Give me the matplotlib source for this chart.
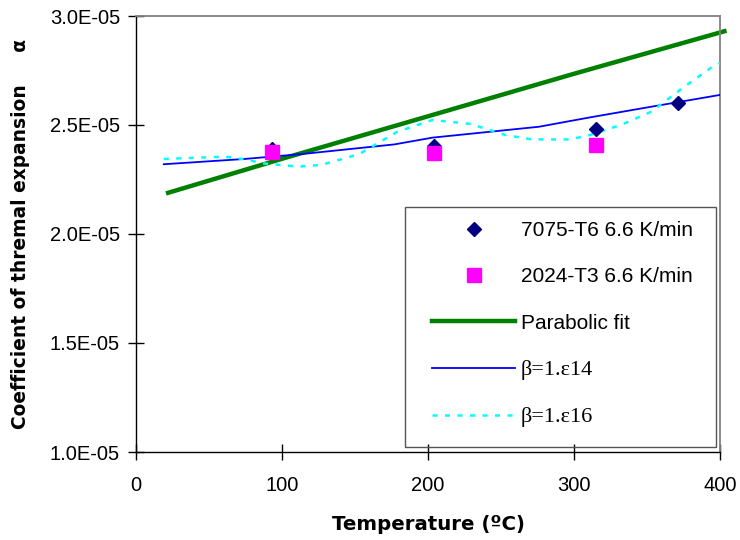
import matplotlib
matplotlib.use("Agg")
import matplotlib.pyplot as plt
import numpy as np
from matplotlib.patches import Rectangle
from matplotlib.ticker import FuncFormatter

plt.rcParams['font.family'] = ['Liberation Sans', 'DejaVu Sans']

# measured alpha values (x1e-5 1/K)
t_7075 = [93, 204, 315, 371]
a_7075 = [2.39, 2.405, 2.483, 2.602]
t_2024 = [93, 204, 315]
a_2024 = [2.376, 2.373, 2.408]

# parabolic fit of the data
t_fit = [22, 100, 200, 300, 403]
a_fit = [2.189, 2.345, 2.540, 2.735, 2.93]

# model curves
t_b14 = [19, 74, 114, 177, 203, 276, 311, 347, 400]
a_b14 = [2.320, 2.344, 2.367, 2.411, 2.442, 2.492, 2.535, 2.577, 2.638]
t_b16 = [19, 61, 74, 87, 111, 127, 153, 179, 203, 229, 253, 271, 297, 311,
         332, 353, 374, 395, 400]
a_b16 = [2.344, 2.355, 2.343, 2.324, 2.309, 2.317, 2.367, 2.469, 2.523,
         2.505, 2.454, 2.434, 2.434, 2.454, 2.500, 2.561, 2.668, 2.768, 2.783]

scale = 1e-5
W, H = 740, 540

fig = plt.figure(figsize=(7.4, 5.4), dpi=100)
ax = fig.add_axes([136 / W, 1 - 452 / H, 584 / W, 436 / H])

ax.plot(t_fit, np.array(a_fit) * scale, color='#008000', lw=3.2,
        label='Parabolic fit', zorder=2, clip_on=False)
ax.plot(t_b14, np.array(a_b14) * scale, color='#0000FF', lw=1.3,
        label='β=1.ε14', zorder=3)
ax.plot(t_b16, np.array(a_b16) * scale, color='#00FFFF', lw=1.8,
        ls=(0, (2, 3)), label='β=1.ε16', zorder=3)
ax.plot(t_7075, np.array(a_7075) * scale, 'D', color='#000080', ms=7,
        label='7075-T6 6.6 K/min', zorder=4)
ax.plot(t_2024, np.array(a_2024) * scale, 's', color='#FF00FF', ms=9.5,
        label='2024-T3 6.6 K/min', zorder=5)

ax.set_xlim(0, 400)
ax.set_ylim(1.0e-5, 3.0e-5)
ax.set_xticks([0, 100, 200, 300, 400])
ax.set_yticks([1.0e-5, 1.5e-5, 2.0e-5, 2.5e-5, 3.0e-5])
ax.yaxis.set_major_formatter(FuncFormatter(lambda v, p: f"{v / 1e-5:.1f}E-05"))
ax.tick_params(direction='inout', length=11, width=1, labelsize=14.5)
ax.tick_params(axis='y', pad=6)
ax.tick_params(axis='x', pad=12)

for s in ['top', 'right']:
    ax.spines[s].set_color('#808080')
    ax.spines[s].set_linewidth(1.3)
for s in ['left', 'bottom']:
    ax.spines[s].set_color('black')
    ax.spines[s].set_linewidth(1.0)

ax.set_xlabel('Temperature (ºC)', fontsize=14.2, fontweight='bold',
              family=['DejaVu Sans'], labelpad=14)
ax.set_ylabel('Coefficient of thremal expansion     α', fontsize=13.4,
              fontweight='bold', family=['DejaVu Sans'])
ax.yaxis.set_label_coords(-0.181, 0.5)

handles, labels = ax.get_legend_handles_labels()
order = [3, 4, 0, 1, 2]
leg = ax.legend([handles[i] for i in order], [labels[i] for i in order],
                loc='upper left', bbox_to_anchor=(432 / W, 1 - 221 / H),
                bbox_transform=fig.transFigure, fontsize=15, frameon=False,
                handlelength=4.0, labelspacing=1.31, borderpad=0,
                handletextpad=0.25, borderaxespad=0)
for txt in leg.get_texts()[3:]:
    txt.set_fontfamily(['Liberation Serif', 'DejaVu Serif'])
    txt.set_fontsize(16)

# legend border
fig.patches.append(Rectangle((405 / W, 1 - 447 / H), 311 / W, 240 / H,
                             transform=fig.transFigure, fill=False,
                             edgecolor='#555555', lw=1.0, zorder=6))

fig.savefig('out.png', dpi=100)
